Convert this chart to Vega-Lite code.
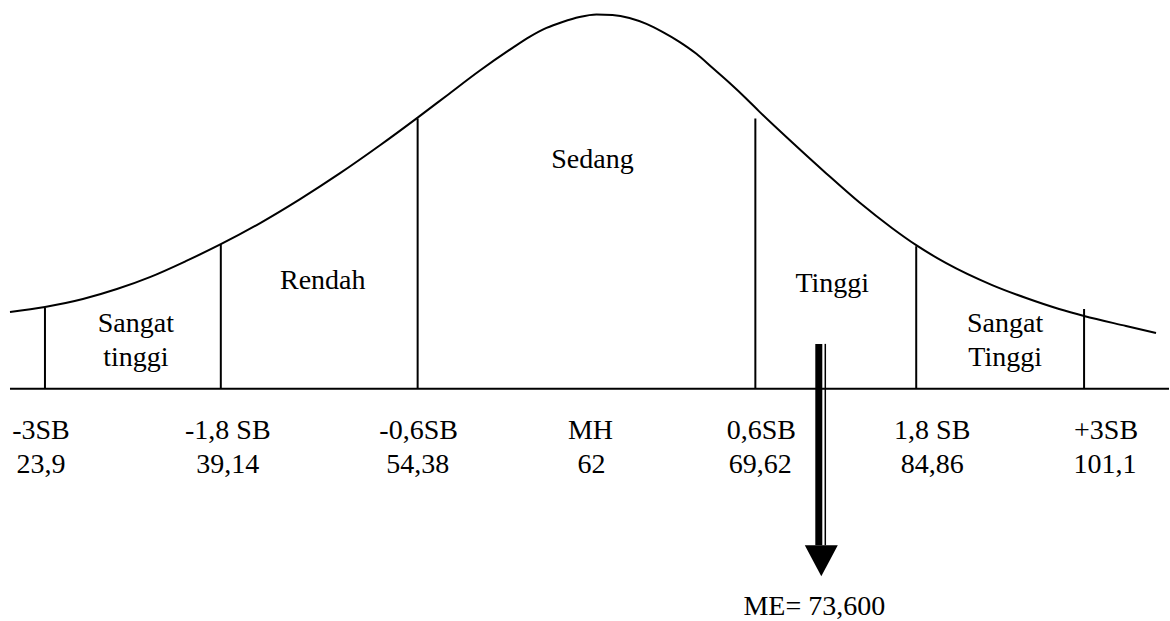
{
  "$schema": "https://vega.github.io/schema/vega-lite/v6.json",
  "width": 1170,
  "height": 621,
  "autosize": {"type": "fit", "contains": "padding"},
  "padding": 0,
  "background": "white",
  "config": {"view": {"stroke": null}},
  "datasets": {
    "garis_dasar": [{"x0": 10, "x1": 1170, "h": 0}],
    "kurva": [
      {"x": 10, "h": 77}, {"x": 45, "h": 82}, {"x": 83, "h": 90}, {"x": 117, "h": 100},
      {"x": 150, "h": 112}, {"x": 187, "h": 128.5}, {"x": 221, "h": 145}, {"x": 260, "h": 166},
      {"x": 300, "h": 190}, {"x": 340, "h": 216}, {"x": 380, "h": 244}, {"x": 418, "h": 272},
      {"x": 447, "h": 294}, {"x": 480, "h": 319}, {"x": 513, "h": 342}, {"x": 530, "h": 353},
      {"x": 547, "h": 362}, {"x": 563, "h": 368}, {"x": 580, "h": 373}, {"x": 597, "h": 375.5},
      {"x": 613, "h": 375}, {"x": 630, "h": 372}, {"x": 647, "h": 366}, {"x": 663, "h": 358},
      {"x": 680, "h": 348}, {"x": 697, "h": 336}, {"x": 713, "h": 322}, {"x": 730, "h": 307},
      {"x": 747, "h": 291}, {"x": 760, "h": 278}, {"x": 793, "h": 247}, {"x": 827, "h": 216},
      {"x": 860, "h": 187}, {"x": 893, "h": 161}, {"x": 917, "h": 144}, {"x": 947, "h": 126},
      {"x": 993, "h": 104}, {"x": 1027, "h": 91}, {"x": 1060, "h": 80}, {"x": 1085, "h": 73},
      {"x": 1127, "h": 63}, {"x": 1157, "h": 56}
    ],
    "batas": [
      {"x": 45, "top": 81, "bottom": 0},
      {"x": 221, "top": 145, "bottom": 0},
      {"x": 418, "top": 271, "bottom": 0},
      {"x": 756, "top": 271, "bottom": 0},
      {"x": 917, "top": 143, "bottom": 0},
      {"x": 1085, "top": 80, "bottom": 0}
    ],
    "panah": [
      {"bagian": "batang", "x": 819.5, "top": 45, "bottom": -157},
      {"bagian": "garis", "x": 826, "top": 45, "bottom": -157}
    ],
    "ujung": [{"x": 822, "h": -172.5}],
    "teks": [
      {"x": 41, "h": -50, "t": "-3SB"},
      {"x": 41, "h": -85, "t": "23,9"},
      {"x": 228, "h": -50, "t": "-1,8 SB"},
      {"x": 228, "h": -85, "t": "39,14"},
      {"x": 419, "h": -50, "t": "-0,6SB"},
      {"x": 418, "h": -85, "t": "54,38"},
      {"x": 591, "h": -50, "t": "MH"},
      {"x": 592, "h": -85, "t": "62"},
      {"x": 762, "h": -50, "t": "0,6SB"},
      {"x": 761, "h": -85, "t": "69,62"},
      {"x": 933, "h": -50, "t": "1,8 SB"},
      {"x": 933, "h": -85, "t": "84,86"},
      {"x": 1107, "h": -50, "t": "+3SB"},
      {"x": 1106, "h": -85, "t": "101,1"},
      {"x": 136, "h": 57, "t": "Sangat"},
      {"x": 136, "h": 23, "t": "tinggi"},
      {"x": 323, "h": 100, "t": "Rendah"},
      {"x": 593, "h": 221, "t": "Sedang"},
      {"x": 833, "h": 97, "t": "Tinggi"},
      {"x": 1006, "h": 57, "t": "Sangat"},
      {"x": 1006, "h": 23, "t": "Tinggi"},
      {"x": 815, "h": -227, "t": "ME= 73,600"}
    ]
  },
  "layer": [
    {
      "data": {"name": "garis_dasar"},
      "mark": {"type": "rule", "color": "black", "strokeWidth": 2},
      "encoding": {
        "x": {"field": "x0", "type": "quantitative", "scale": {"domain": [0, 1170], "nice": false, "zero": false}, "axis": null},
        "x2": {"field": "x1"},
        "y": {"field": "h", "type": "quantitative", "scale": {"domain": [-231, 390], "nice": false, "zero": false}, "axis": null}
      }
    },
    {
      "data": {"name": "kurva"},
      "mark": {"type": "line", "color": "black", "strokeWidth": 2, "interpolate": "monotone"},
      "encoding": {
        "x": {"field": "x", "type": "quantitative", "axis": null},
        "y": {"field": "h", "type": "quantitative", "axis": null}
      }
    },
    {
      "data": {"name": "batas"},
      "mark": {"type": "rule", "color": "black", "strokeWidth": 2},
      "encoding": {
        "x": {"field": "x", "type": "quantitative", "axis": null},
        "y": {"field": "top", "type": "quantitative", "axis": null},
        "y2": {"field": "bottom"}
      }
    },
    {
      "data": {"name": "panah"},
      "transform": [{"filter": "datum.bagian === 'batang'"}],
      "mark": {"type": "rule", "color": "black", "strokeWidth": 7},
      "encoding": {
        "x": {"field": "x", "type": "quantitative", "axis": null},
        "y": {"field": "top", "type": "quantitative", "axis": null},
        "y2": {"field": "bottom"}
      }
    },
    {
      "data": {"name": "panah"},
      "transform": [{"filter": "datum.bagian === 'garis'"}],
      "mark": {"type": "rule", "color": "black", "strokeWidth": 1.5},
      "encoding": {
        "x": {"field": "x", "type": "quantitative", "axis": null},
        "y": {"field": "top", "type": "quantitative", "axis": null},
        "y2": {"field": "bottom"}
      }
    },
    {
      "data": {"name": "ujung"},
      "mark": {"type": "point", "shape": "M-1,-0.94L1,-0.94L0,0.94Z", "size": 1089, "filled": true, "color": "black", "opacity": 1, "strokeWidth": 0},
      "encoding": {
        "x": {"field": "x", "type": "quantitative", "axis": null},
        "y": {"field": "h", "type": "quantitative", "axis": null}
      }
    },
    {
      "data": {"name": "teks"},
      "mark": {"type": "text", "font": "Liberation Serif", "fontSize": 28, "color": "black", "align": "center", "baseline": "alphabetic"},
      "encoding": {
        "x": {"field": "x", "type": "quantitative", "axis": null},
        "y": {"field": "h", "type": "quantitative", "axis": null},
        "text": {"field": "t"}
      }
    }
  ]
}
